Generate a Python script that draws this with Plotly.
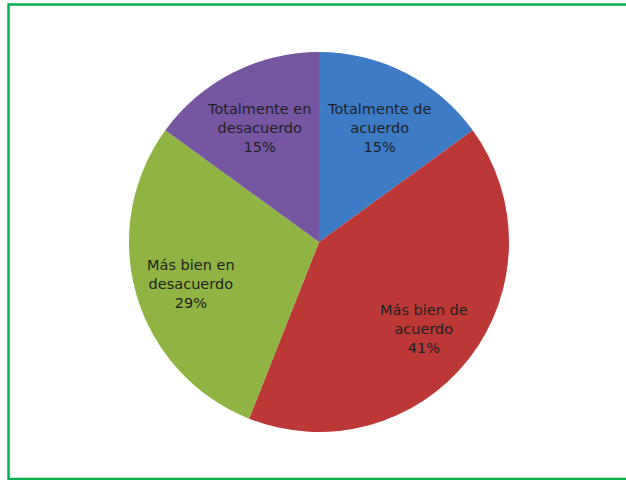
import math
import plotly.graph_objects as go

categories = ["Totalmente de acuerdo", "Más bien de acuerdo", "Más bien en desacuerdo", "Totalmente en desacuerdo"]
label_lines = ["Totalmente de<br>acuerdo", "Más bien de<br>acuerdo", "Más bien en<br>desacuerdo", "Totalmente en<br>desacuerdo"]
values = [15, 41, 29, 15]
colors = ["#3e7bc7", "#bc3836", "#8fb441", "#7656a0"]

W, H = 626, 480
CX, CY, R = 319, 242, 190  # pie centre and radius in px
dom_x = [(CX - R) / W, (CX + R) / W]
dom_y = [(H - CY - R) / H, (H - CY + R) / H]

fig = go.Figure(go.Pie(
    labels=categories,
    values=values,
    sort=False,
    direction="clockwise",
    rotation=0,
    marker=dict(colors=colors, line=dict(width=0)),
    textinfo="none",
    domain=dict(x=dom_x, y=dom_y),
    showlegend=False,
    hoverinfo="label+percent",
))

# data labels placed along each slice's bisector (as in the original)
total = sum(values)
cum = 0
annotations = []
for lab, v in zip(label_lines, values):
    mid = (cum + v / 2) / total * 2 * math.pi
    cum += v
    r = 0.70 * R
    px = CX + r * math.sin(mid)
    py = CY - r * math.cos(mid)
    annotations.append(dict(
        x=px / W, y=(H - py) / H, xref="paper", yref="paper",
        xanchor="center", yanchor="middle", yshift=-5,
        text=f"{lab}<br>{round(v / total * 100)}%",
        showarrow=False, align="center",
        font=dict(family="DejaVu Sans, sans-serif", size=14.5, color="#1f1f1f"),
    ))

fig.update_layout(
    width=W, height=H,
    margin=dict(l=0, r=0, t=0, b=0),
    paper_bgcolor="white",
    plot_bgcolor="white",
    annotations=annotations,
    shapes=[dict(type="rect", xref="paper", yref="paper",
                 x0=8.5 / W, y0=1 / H, x1=1.02, y1=1 - 4.5 / H,
                 line=dict(color="#00b050", width=2.5), layer="below")],
)

fig.write_html("out.html", config={"displayModeBar": False},
               post_script="document.body.style.margin='0';document.body.style.padding='0';")
